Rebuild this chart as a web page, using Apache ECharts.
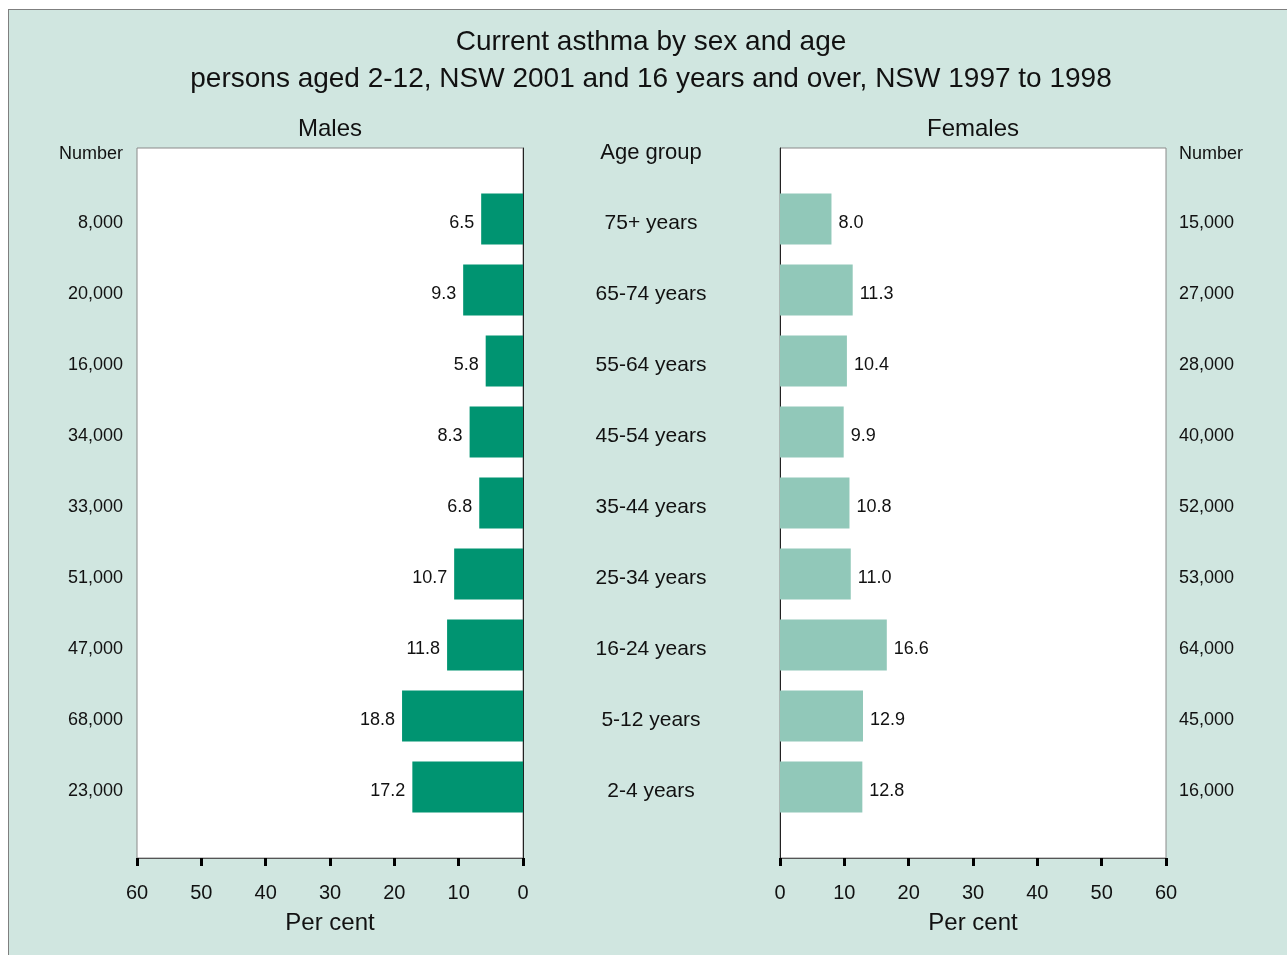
<!DOCTYPE html>
<html>
<head>
<meta charset="utf-8">
<script src="https://cdn.jsdelivr.net/npm/echarts@6/dist/echarts.min.js"></script>
<style>
  html, body { margin: 0; padding: 0; background: #ffffff; }
  #frame { position: absolute; left: 8px; top: 9px; width: 1290px; height: 960px;
           border: 1px solid #7f7f7f; background: #d0e6e0; }
  #chart { position: absolute; left: 0; top: 0; width: 1287px; height: 955px; }
</style>
</head>
<body>
<div id="frame"></div>
<div id="chart"></div>
<script>
// Age groups listed top to bottom
const ageGroups = ['75+ years', '65-74 years', '55-64 years', '45-54 years', '35-44 years',
                   '25-34 years', '16-24 years', '5-12 years', '2-4 years'];
// Per cent with current asthma
const malePct   = [6.5, 9.3, 5.8, 8.3, 6.8, 10.7, 11.8, 18.8, 17.2];
const femalePct = [8.0, 11.3, 10.4, 9.9, 10.8, 11.0, 16.6, 12.9, 12.8];
// Estimated number of people
const maleNum   = ['8,000', '20,000', '16,000', '34,000', '33,000', '51,000', '47,000', '68,000', '23,000'];
const femaleNum = ['15,000', '27,000', '28,000', '40,000', '52,000', '53,000', '64,000', '45,000', '16,000'];
const pctTicks  = [0, 10, 20, 30, 40, 50, 60];

// Category axis runs bottom-up with an empty slot at each end so bars sit on ticks
function pad(arr, blank) { return [blank].concat(arr.slice().reverse(), [blank]); }
const catAge = pad(ageGroups, '');
const catMale = pad(maleNum, '');
const catFemale = pad(femaleNum, '');
const dataMale = pad(malePct, '-');
const dataFemale = pad(femalePct, '-');

const FONT = 'Liberation Sans, Arial, sans-serif';
const MALE_COL = '#009471';
const FEMALE_COL = '#91c8b9';

// Row labels sit slightly below the bar centre
function rowLabel(size, margin, align) {
  return {
    show: true, interval: 0, margin, align,
    formatter: v => v ? '{t|' + v + '}' : '',
    rich: { t: { fontSize: size, color: '#111', fontFamily: FONT, padding: [8, 0, 0, 0] } }
  };
}

function pctAxis(gridIndex, inverse) {
  return {
    type: 'value', gridIndex, inverse,
    min: pctTicks[0], max: pctTicks[pctTicks.length - 1], interval: 10,
    splitLine: { show: false },
    axisLine: { show: true, onZero: false, lineStyle: { color: '#555', width: 1 } },
    axisTick: { show: true, length: 8, lineStyle: { color: '#000', width: 3 } },
    axisLabel: { fontSize: 20, color: '#111', margin: 25, fontFamily: FONT },
    name: 'Per cent', nameLocation: 'middle', nameGap: 53,
    nameTextStyle: { fontSize: 24, color: '#111', fontFamily: FONT }
  };
}

function catAxis(gridIndex, position, labels, opts) {
  return Object.assign({
    type: 'category', gridIndex, position, data: labels, boundaryGap: false,
    axisLine: { show: false, onZero: false },
    axisTick: { show: false },
    splitLine: { show: false },
    axisLabel: { show: false }
  }, opts);
}

function heading(text, left, top, size, align) {
  return { text, left, top, textAlign: align, padding: 0,
           textStyle: { fontSize: size, fontWeight: 'normal', color: '#111', fontFamily: FONT } };
}

const chart = echarts.init(document.getElementById('chart'), null, { renderer: 'canvas' });
chart.setOption({
  backgroundColor: 'transparent',
  animation: false,
  textStyle: { fontFamily: FONT },
  title: [
    { text: 'Current asthma by sex and age\npersons aged 2-12, NSW 2001 and 16 years and over, NSW 1997 to 1998',
      left: 651, top: 24, textAlign: 'center', padding: 0,
      textStyle: { fontSize: 28, fontWeight: 'normal', color: '#111', lineHeight: 37, fontFamily: FONT } },
    heading('Males', 330, 117, 24, 'center'),
    heading('Females', 973, 117, 24, 'center'),
    heading('Age group', 651, 142, 22, 'center'),
    heading('Number', 123, 145, 18, 'right'),
    heading('Number', 1179, 145, 18, 'left')
  ],
  grid: [
    { left: 137, top: 148, width: 386, height: 710, show: true,
      backgroundColor: '#ffffff', borderColor: '#8a8a8a', borderWidth: 1 },
    { left: 780, top: 148, width: 386, height: 710, show: true,
      backgroundColor: '#ffffff', borderColor: '#8a8a8a', borderWidth: 1 }
  ],
  xAxis: [pctAxis(0, true), pctAxis(1, false)],
  yAxis: [
    catAxis(0, 'left', catMale, { axisLabel: rowLabel(18, 14) }),
    catAxis(0, 'right', catMale, {
      axisLine: { show: true, onZero: false, lineStyle: { color: '#222', width: 1 } } }),
    catAxis(1, 'left', catAge, {
      axisLine: { show: true, onZero: false, lineStyle: { color: '#222', width: 1 } },
      axisLabel: rowLabel(21, 129, 'center') }),
    catAxis(1, 'right', catFemale, { axisLabel: rowLabel(18, 13) })
  ],
  series: [
    { type: 'bar', name: 'Males', xAxisIndex: 0, yAxisIndex: 0, data: dataMale,
      barWidth: 51, itemStyle: { color: MALE_COL },
      label: { show: true, position: 'left', distance: 7, offset: [0, 4], fontSize: 18, color: '#111',
               fontFamily: FONT, formatter: p => p.value.toFixed(1) } },
    { type: 'bar', name: 'Females', xAxisIndex: 1, yAxisIndex: 2, data: dataFemale,
      barWidth: 51, itemStyle: { color: FEMALE_COL },
      label: { show: true, position: 'right', distance: 7, offset: [0, 4], fontSize: 18, color: '#111',
               fontFamily: FONT, formatter: p => p.value.toFixed(1) } }
  ]
});
</script>
</body>
</html>
